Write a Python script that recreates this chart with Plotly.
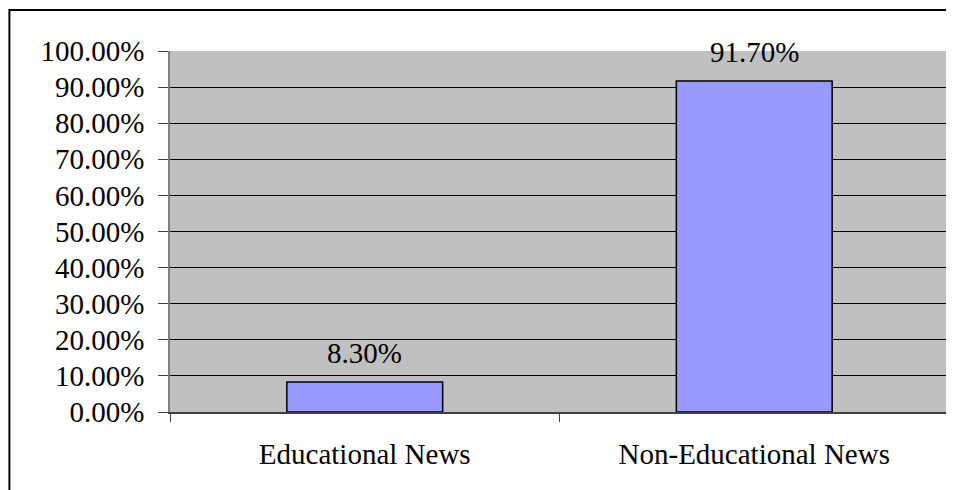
import plotly.graph_objects as go

categories = ["Educational News", "Non-Educational News"]
values = [8.30, 91.70]
y_ticks = [0, 10, 20, 30, 40, 50, 60, 70, 80, 90, 100]
y_tick_labels = ["0.00%", "10.00%", "20.00%", "30.00%", "40.00%", "50.00%",
                 "60.00%", "70.00%", "80.00%", "90.00%", "100.00%"]
value_labels = ["8.30%", "91.70%"]

FONT = "Liberation Serif, Times New Roman, serif"
FS = 29

# page offset of the figure (default body margin)
OFF = 8
W, H = 954, 490
# target plot area in page pixels
PL, PR, PT, PB = 170, 951, 51, 412
L, T = PL - OFF, PT - OFF
R, B = W - (PR - OFF), H - (PB - OFF)
pw, ph = W - L - R, H - T - B

fig = go.Figure()
fig.add_trace(go.Bar(
    x=categories, y=values,
    width=0.4,
    marker=dict(color="#9999FF", line=dict(color="black", width=1.5)),
    hoverinfo="skip",
))

for c, v, t in zip(categories, values, value_labels):
    fig.add_annotation(x=c, y=v, text=t, showarrow=False, yanchor="bottom",
                       yshift=11, font=dict(family=FONT, size=FS, color="black"))

def px_x(p):
    return (p - OFF - L) / pw

def px_y(p):
    return 1 - (p - OFF - T) / ph

fig.add_shape(type="rect", xref="paper", yref="paper",
              x0=px_x(9), x1=px_x(1100), y0=px_y(10), y1=px_y(700),
              line=dict(color="black", width=2), fillcolor="rgba(0,0,0,0)",
              layer="above")

fig.update_layout(
    width=W, height=H,
    margin=dict(l=L, r=R, t=T, b=B, pad=0),
    paper_bgcolor="white",
    plot_bgcolor="#C0C0C0",
    showlegend=False,
    font=dict(family=FONT, size=FS, color="black"),
)
fig.update_xaxes(
    type="category",
    tickson="boundaries",
    ticks="outside", ticklen=8, tickcolor="#404040", tickwidth=1,
    showline=True, linecolor="#404040", linewidth=1.5, mirror=False,
    showgrid=False,
    tickfont=dict(family=FONT, size=FS, color="black"),
    ticklabelstandoff=15,
)
fig.update_yaxes(
    range=[0, 100],
    tickvals=y_ticks, ticktext=y_tick_labels,
    ticks="outside", ticklen=10, tickcolor="#404040", tickwidth=1,
    showline=True, linecolor="#808080", linewidth=1.5, mirror=True,
    showgrid=True, gridcolor="black", gridwidth=1,
    zeroline=False,
    tickfont=dict(family=FONT, size=FS, color="black"),
    ticklabelstandoff=8,
)

fig.write_html("out.html")
